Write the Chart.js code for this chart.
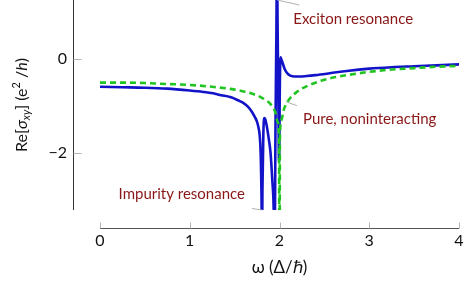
<!DOCTYPE html>
<html><head><meta charset="utf-8">
<script src="https://cdn.jsdelivr.net/npm/chart.js@4/dist/chart.umd.min.js"></script>
<style>html,body{margin:0;padding:0;background:#fff}</style>
</head><body>
<canvas id="c" width="469" height="284"></canvas>
<script>
// ---- data ----
const omegaPure = [0,0.25,0.5,0.75,1,1.25,1.5,1.6,1.7,1.8,1.85,1.9,1.95,1.98,1.995,2.0,2.005,2.02,2.05,2.1,2.2,2.3,2.5,2.75,3,3.25,3.5,3.75,4];
const pureValues = [-0.50,-0.50,-0.51,-0.53,-0.55,-0.59,-0.65,-0.69,-0.74,-0.82,-0.88,-0.96,-1.12,-1.34,-1.68,-6.0,-1.67,-1.31,-1.07,-0.88,-0.69,-0.58,-0.44,-0.34,-0.27,-0.22,-0.19,-0.16,-0.14];

const omegaImp = [0,0.25,0.5,0.75,1,1.15,1.26,1.35,1.45,1.55,1.6,1.65,1.69,1.72,1.75,1.77,1.78,1.79,1.80,1.805,1.81,1.82,1.83,1.84,1.86,1.88,1.9,1.92,1.935,1.945,1.955,1.965,1.972,1.98,1.988,1.995,2.005,2.012,2.02,2.035,2.06,2.09,2.12,2.17,2.23,2.3,2.4,2.56,2.75,3,3.25,3.5,3.75,4];
const impurityValues = [-0.59,-0.60,-0.61,-0.63,-0.67,-0.70,-0.73,-0.77,-0.81,-0.89,-0.94,-1.02,-1.12,-1.22,-1.34,-1.50,-1.65,-2.0,-3.0,-4.0,-2.8,-1.6,-1.26,-1.28,-1.45,-1.70,-2.0,-2.6,-3.2,-4.5,-1.5,0.5,2.0,0.5,-1.0,-2.2,-0.4,0.04,0.0,-0.08,-0.22,-0.31,-0.35,-0.37,-0.37,-0.36,-0.34,-0.30,-0.25,-0.20,-0.17,-0.15,-0.13,-0.11];

const xTickValues = [0,1,2,3,4];
const yTickValues = [-2,0];
const labelTexts = ['Exciton resonance','Pure, noninteracting','Impurity resonance'];

const FONT = 'Lato, "Open Sans", sans-serif';
const TEXT_RED = '#8a1717';

const axesPlugin = {
  id: 'axesPlugin',
  afterDraw(chart) {
    const {ctx, chartArea: ca, scales: {x, y}} = chart;
    ctx.save();
    const ax = Math.round(ca.left - 27) + 0.5;
    ctx.lineWidth = 1;
    ctx.strokeStyle = '#333';
    ctx.beginPath(); ctx.moveTo(ax, ca.top); ctx.lineTo(ax, ca.bottom); ctx.stroke();
    ctx.strokeStyle = '#b5b5b5';
    yTickValues.forEach(v => {
      const py = Math.round(y.getPixelForValue(v)) + 0.5;
      ctx.beginPath(); ctx.moveTo(ax, py); ctx.lineTo(ax + 8, py); ctx.stroke();
    });
    const ay = Math.round(ca.bottom + 18) + 0.5;
    ctx.strokeStyle = '#555';
    ctx.beginPath(); ctx.moveTo(ca.left, ay); ctx.lineTo(ca.right, ay); ctx.stroke();
    ctx.strokeStyle = '#b5b5b5';
    xTickValues.forEach(v => {
      const px = Math.round(x.getPixelForValue(v)) + 0.5;
      ctx.beginPath(); ctx.moveTo(px, ay); ctx.lineTo(px, ay - 6); ctx.stroke();
    });

    // y axis title with sub/superscripts
    const parts = [
      {t:'Re[', f:'16px ' + FONT, dy:0},
      {t:'σ', f:'italic 16px ' + FONT, dy:0},
      {t:'xy', f:'italic 11px ' + FONT, dy:4},
      {t:'] (e', f:'16px ' + FONT, dy:0},
      {t:'2', f:'11px ' + FONT, dy:-6},
      {t:' /', f:'16px ' + FONT, dy:0},
      {t:'h', f:'italic 16px ' + FONT, dy:0},
      {t:')', f:'16px ' + FONT, dy:0}
    ];
    let total = 0;
    parts.forEach(p => { ctx.font = p.f; p.w = ctx.measureText(p.t).width; total += p.w; });
    ctx.translate(22, (ca.top + ca.bottom) / 2);
    ctx.rotate(-Math.PI / 2);
    ctx.fillStyle = '#111';
    ctx.textBaseline = 'middle';
    ctx.textAlign = 'left';
    let cx = -total / 2;
    parts.forEach(p => { ctx.font = p.f; ctx.fillText(p.t, cx, p.dy); cx += p.w; });
    ctx.restore();

    // annotations with pin lines
    ctx.save();
    ctx.font = '15px ' + FONT;
    ctx.fillStyle = TEXT_RED;
    ctx.textBaseline = 'middle';
    ctx.strokeStyle = '#b0b0b0';
    ctx.lineWidth = 1;
    let px = x.getPixelForValue(1.975), py = ca.top;
    ctx.beginPath(); ctx.moveTo(px, py); ctx.lineTo(px + 22, py + 5); ctx.stroke();
    ctx.textAlign = 'left';
    ctx.fillText(labelTexts[0], px + 16, py + 19);
    px = x.getPixelForValue(2.072); py = y.getPixelForValue(-0.91);
    ctx.beginPath(); ctx.moveTo(px, py); ctx.lineTo(px + 11, py + 4); ctx.stroke();
    ctx.fillText(labelTexts[1], px + 17, py + 17);
    px = x.getPixelForValue(1.805); py = ca.bottom;
    ctx.beginPath(); ctx.moveTo(px, py); ctx.lineTo(px - 10, py - 1.5); ctx.stroke();
    ctx.textAlign = 'right';
    ctx.fillText(labelTexts[2], px - 17, py - 16);
    ctx.restore();
  }
};

new Chart(document.getElementById('c'), {
  type: 'line',
  data: {
    datasets: [
      {
        label: 'Pure, noninteracting',
        data: omegaPure.map((w, i) => ({x: w, y: pureValues[i]})),
        borderColor: '#22c422',
        borderWidth: 2.6,
        borderDash: [6, 4],
        pointRadius: 0,
        fill: false,
        cubicInterpolationMode: 'monotone'
      },
      {
        label: 'Impurity',
        data: omegaImp.map((w, i) => ({x: w, y: impurityValues[i]})),
        borderColor: '#1212c8',
        borderWidth: 2.6,
        pointRadius: 0,
        fill: false,
        cubicInterpolationMode: 'monotone'
      }
    ]
  },
  options: {
    responsive: false,
    animation: false,
    devicePixelRatio: 1,
    layout: {padding: {left: 0, right: 10, top: 0, bottom: 0}},
    plugins: {legend: {display: false}, tooltip: {enabled: false}},
    scales: {
      x: {
        type: 'linear', min: 0, max: 4,
        grid: {display: false, drawTicks: false},
        border: {display: false},
        afterBuildTicks: s => { s.ticks = xTickValues.map(v => ({value: v})); },
        ticks: {color: '#111', font: {family: FONT, size: 16}, padding: 21, maxRotation: 0},
        title: {display: true, text: 'ω (Δ/ℏ)', color: '#111', font: {family: FONT, size: 17}, padding: {top: 0, bottom: 6}},
        afterFit: s => { s.height = 74; s.paddingLeft = 0; s.paddingRight = 0; }
      },
      y: {
        type: 'linear', min: -3.23, max: 1.27,
        grid: {display: false, drawTicks: false},
        border: {display: false},
        afterBuildTicks: s => { s.ticks = yTickValues.map(v => ({value: v})); },
        ticks: {color: '#111', font: {family: FONT, size: 16}, padding: 33,
          callback: v => String(v).replace('-', '\u2212')},
        afterFit: s => { s.width = 100; s.paddingTop = 0; s.paddingBottom = 0; }
      }
    }
  },
  plugins: [axesPlugin]
});
</script>
</body></html>
